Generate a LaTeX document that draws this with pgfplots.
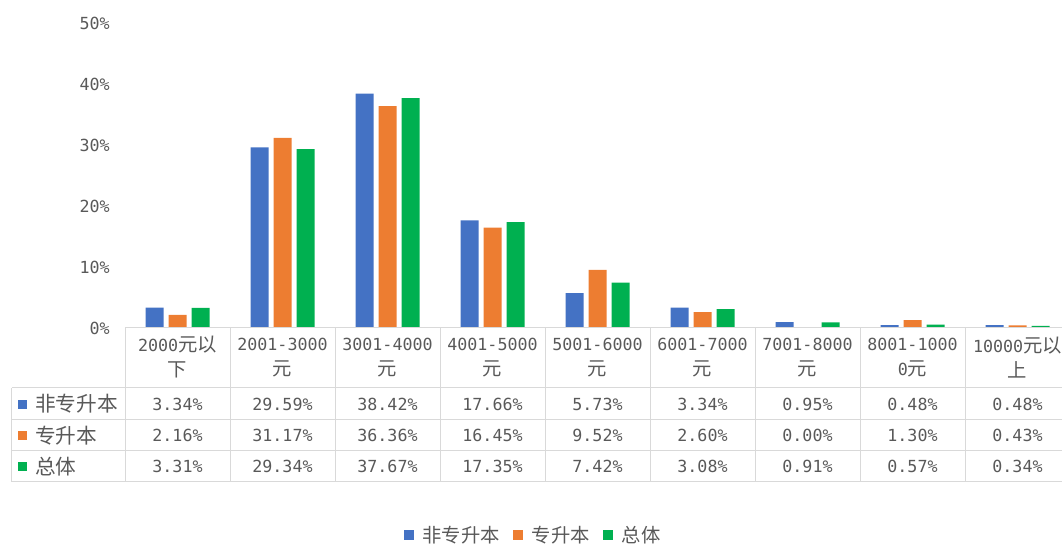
\documentclass[border=0pt]{standalone}
\usepackage{pgfplots}
\pgfplotsset{compat=1.18}
\usepackage{pgfplotstable}
\usepackage{fontspec}
\setmainfont{DejaVu Sans Mono}
\newfontfamily\cjkfont{Noto Sans CJK SC}
\newcommand\cjk{\cjkfont\fontsize{14.5pt}{18.75pt}\selectfont}
\newcommand\cjkb{\cjkfont\fontsize{15.5pt}{18.75pt}\selectfont}
\newcommand\num{\fontsize{12.5pt}{18.75pt}\selectfont}
\definecolor{cblue}{HTML}{4472C4}
\definecolor{corange}{HTML}{ED7D31}
\definecolor{cgreen}{HTML}{00B050}
\definecolor{ctext}{HTML}{595959}
\definecolor{cgrid}{HTML}{D9D9D9}

\pgfplotstableread{
x a b c
0 3.34 2.16 3.31
1 29.59 31.17 29.34
2 38.42 36.36 37.67
3 17.66 16.45 17.35
4 5.73 9.52 7.42
5 3.34 2.60 3.08
6 0.95 0.00 0.91
7 0.48 1.30 0.57
8 0.48 0.43 0.34
}\data

\begin{document}
\begin{tikzpicture}
\path[use as bounding box] (0,0) rectangle (796.5pt,408.75pt);
\clip (0,0) rectangle (796.5pt,408.75pt);
\begin{axis}[
  at={(93.75pt,162.75pt)}, anchor=south west,
  scale only axis, width=708.75pt, height=228.75pt,
  xmin=-0.5, xmax=8.5, ymin=0, ymax=50,
  ybar, bar width=13.5pt,
  axis lines*=left, axis line style={draw=none},
  major tick length=0pt,
  ytick={0,10,...,50},
  yticklabels={0\%,10\%,20\%,30\%,40\%,50\%},
  yticklabel style={font=\num, text=ctext, xshift=-8pt},
  xtick={0,...,8},
  xticklabels={{2000{\cjk 元以}\\{\cjk 下}},{2001-3000\\{\cjk 元}},{3001-4000\\{\cjk 元}},{4001-5000\\{\cjk 元}},{5001-6000\\{\cjk 元}},{6001-7000\\{\cjk 元}},{7001-8000\\{\cjk 元}},{8001-1000\\0{\cjk 元}},{10000{\cjk 元以}\\{\cjk 上}}},
  xticklabel style={font=\num, text=ctext, align=center, anchor=center, yshift=-22pt},
  clip=false,
  legend columns=-1,
  legend style={draw=none, fill=none, at={(0.4323,-0.6787)}, anchor=center, font=\cjk, text=ctext,
    /tikz/every odd column/.append style={column sep=4.5pt},
    /tikz/every even column/.append style={column sep=8pt}},
  legend image code/.code={\fill[#1] (0pt,-3.75pt) rectangle (7.5pt,3.75pt);},
]
\addplot[fill=cblue, draw=none, bar shift=-17.25pt] table[x=x,y=a]{\data};
\addplot[fill=corange, draw=none, bar shift=0pt] table[x=x,y=b]{\data};
\addplot[fill=cgreen, draw=none, bar shift=17.25pt] table[x=x,y=c]{\data};
\legend{非专升本,专升本,总体}

\addplot[forget plot, draw=none, fill=none, bar shift=0pt, point meta=explicit,
  nodes near coords={\pgfmathprintnumber[fixed,fixed zerofill,precision=2,assume math mode=true]{\pgfplotspointmeta}\%},
  every node near coord/.append style={anchor=center, font=\num, text=ctext}]
  table[x=x, y expr=-12.46, meta=a]{\data};
\addplot[forget plot, draw=none, fill=none, bar shift=0pt, point meta=explicit,
  nodes near coords={\pgfmathprintnumber[fixed,fixed zerofill,precision=2,assume math mode=true]{\pgfplotspointmeta}\%},
  every node near coord/.append style={anchor=center, font=\num, text=ctext}]
  table[x=x, y expr=-17.62, meta=b]{\data};
\addplot[forget plot, draw=none, fill=none, bar shift=0pt, point meta=explicit,
  nodes near coords={\pgfmathprintnumber[fixed,fixed zerofill,precision=2,assume math mode=true]{\pgfplotspointmeta}\%},
  every node near coord/.append style={anchor=center, font=\num, text=ctext}]
  table[x=x, y expr=-22.70, meta=c]{\data};

% table grid
\draw[cgrid, line width=0.75pt] (axis cs:-0.5,0) -- (axis cs:8.7,0);
\draw[cgrid, line width=0.75pt] (axis cs:-1.5762,-9.836) -- (axis cs:8.7,-9.836);
\draw[cgrid, line width=0.75pt] (axis cs:-1.5762,-15.082) -- (axis cs:8.7,-15.082);
\draw[cgrid, line width=0.75pt] (axis cs:-1.5762,-20.164) -- (axis cs:8.7,-20.164);
\draw[cgrid, line width=0.75pt] (axis cs:-1.5762,-25.246) -- (axis cs:8.7,-25.246);
\draw[cgrid, line width=0.75pt] (axis cs:-1.5762,-9.836) -- (axis cs:-1.5762,-25.246);
\draw[cgrid, line width=0.75pt] (axis cs:-0.5,0) -- (axis cs:-0.5,-25.246);
\draw[cgrid, line width=0.75pt] (axis cs:0.5,0) -- (axis cs:0.5,-25.246);
\draw[cgrid, line width=0.75pt] (axis cs:1.5,0) -- (axis cs:1.5,-25.246);
\draw[cgrid, line width=0.75pt] (axis cs:2.5,0) -- (axis cs:2.5,-25.246);
\draw[cgrid, line width=0.75pt] (axis cs:3.5,0) -- (axis cs:3.5,-25.246);
\draw[cgrid, line width=0.75pt] (axis cs:4.5,0) -- (axis cs:4.5,-25.246);
\draw[cgrid, line width=0.75pt] (axis cs:5.5,0) -- (axis cs:5.5,-25.246);
\draw[cgrid, line width=0.75pt] (axis cs:6.5,0) -- (axis cs:6.5,-25.246);
\draw[cgrid, line width=0.75pt] (axis cs:7.5,0) -- (axis cs:7.5,-25.246);

% row labels
\node[fill=cblue, inner sep=0pt, minimum size=6.75pt] at (axis cs:-1.476,-12.46) {};
\node[fill=corange, inner sep=0pt, minimum size=6.75pt] at (axis cs:-1.476,-17.62) {};
\node[fill=cgreen, inner sep=0pt, minimum size=6.75pt] at (axis cs:-1.476,-22.70) {};
\node[anchor=west, inner sep=0pt, text=ctext, font=\cjkb] at (axis cs:-1.357,-12.46) {非专升本};
\node[anchor=west, inner sep=0pt, text=ctext, font=\cjkb] at (axis cs:-1.357,-17.62) {专升本};
\node[anchor=west, inner sep=0pt, text=ctext, font=\cjkb] at (axis cs:-1.357,-22.70) {总体};
\end{axis}
\end{tikzpicture}
\end{document}
